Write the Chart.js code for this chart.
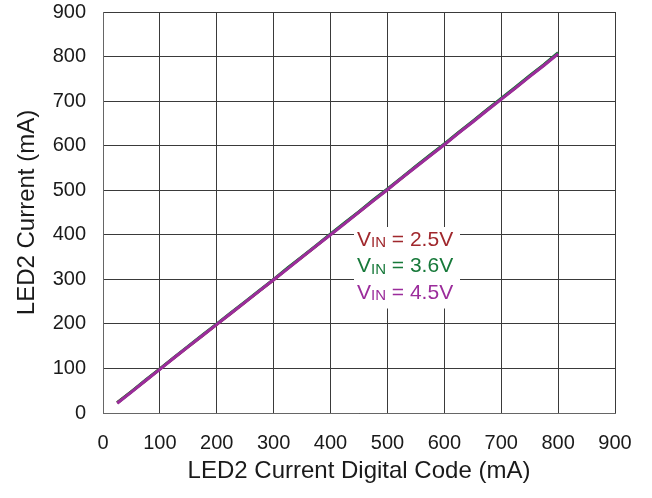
<!DOCTYPE html>
<html>
<head>
<meta charset="utf-8">
<script src="https://cdn.jsdelivr.net/npm/chart.js@4/dist/chart.umd.min.js"></script>
<style>
  html, body { margin: 0; padding: 0; background: #fff; }
  #wrap { width: 652px; height: 498px; }
</style>
</head>
<body>
<div id="wrap"><canvas id="c"></canvas></div>
<script>
// LED2 digital code setting (mA)
const codes = [25, 50, 75, 100, 125, 150, 175, 200, 225, 250, 275, 300, 325, 350, 375, 400,
               425, 450, 475, 500, 525, 550, 575, 600, 625, 650, 675, 700, 725, 750, 775, 800];
// Measured LED2 current (mA) at each supply voltage
const vin25 = [23, 48, 73, 99, 124, 149, 174, 199, 224, 249, 274, 299, 325, 350, 375, 401,
               426, 451, 477, 502, 527, 553, 578, 603, 629, 654, 680, 705, 730, 756, 781, 807];
const vin36 = [23, 48, 74, 99, 125, 150, 175, 200, 225, 250, 275, 300, 326, 351, 376, 402,
               427, 452, 478, 503, 528, 554, 579, 604, 630, 655, 681, 706, 731, 757, 782, 809];
const vin45 = [22, 47, 73, 98, 124, 149, 174, 199, 224, 249, 274, 299, 324, 350, 375, 400,
               425, 451, 476, 501, 527, 552, 577, 602, 628, 653, 679, 704, 729, 755, 780, 806];
const xTicks = [0, 100, 200, 300, 400, 500, 600, 700, 800, 900];
const yTicks = [0, 100, 200, 300, 400, 500, 600, 700, 800, 900];

const seriesNames = ['2.5V', '3.6V', '4.5V'];
const seriesColors = ['#a0282d', '#17793a', '#9b2c9b'];

const FONT = '"Liberation Sans", Arial, sans-serif';
const pts = ys => codes.map((x, i) => ({ x: x, y: ys[i] }));

// Inline voltage labels with subscript, on a white box
const vinLabels = {
  id: 'vinLabels',
  afterDatasetsDraw(chart) {
    const ctx = chart.ctx;
    const x0 = chart.chartArea.left + 254;
    const y0 = chart.chartArea.top + 228;
    const gap = 26.5;
    ctx.save();
    ctx.fillStyle = '#fff';
    ctx.fillRect(x0 - 3, y0 - 13, 106, 3 * gap + 2);
    seriesNames.forEach((name, i) => {
      const y = y0 + i * gap;
      ctx.fillStyle = seriesColors[i];
      ctx.textBaseline = 'middle';
      ctx.textAlign = 'left';
      let x = x0;
      ctx.font = '21px ' + FONT;
      ctx.fillText('V', x, y);
      x += ctx.measureText('V').width;
      ctx.font = '15px ' + FONT;
      ctx.fillText('IN', x, y + 3);
      x += ctx.measureText('IN').width;
      ctx.font = '21px ' + FONT;
      ctx.fillText(' = ' + name, x, y);
    });
    ctx.restore();
  }
};

new Chart(document.getElementById('c'), {
  type: 'line',
  data: {
    datasets: [
      { label: 'VIN = 2.5V', data: pts(vin25), borderColor: seriesColors[0], order: 3 },
      { label: 'VIN = 3.6V', data: pts(vin36), borderColor: seriesColors[1], order: 2 },
      { label: 'VIN = 4.5V', data: pts(vin45), borderColor: seriesColors[2], order: 1 }
    ].map(d => Object.assign(d, { borderWidth: 3, pointRadius: 0, fill: false, tension: 0 }))
  },
  options: {
    responsive: true,
    maintainAspectRatio: false,
    animation: false,
    layout: { padding: { top: 12, right: 37, left: 0, bottom: 0 } },
    plugins: { legend: { display: false }, tooltip: { enabled: false } },
    scales: {
      x: {
        type: 'linear', min: 0, max: 900,
        afterBuildTicks: s => { s.ticks = xTicks.map(v => ({ value: v })); },
        afterFit: s => { s.height = 85; s.paddingLeft = 0; s.paddingRight = 0; },
        grid: { color: '#3a3a3a', lineWidth: 1, drawTicks: false },
        border: { color: '#666', width: 1 },
        ticks: { color: '#1a1a1a', padding: 18, font: { size: 20, family: FONT } },
        title: { display: true, text: 'LED2 Current Digital Code (mA)', color: '#1a1a1a',
                 padding: { top: 12, bottom: 12 }, font: { size: 24, family: FONT } }
      },
      y: {
        type: 'linear', min: 0, max: 900,
        afterBuildTicks: s => { s.ticks = yTicks.map(v => ({ value: v })); },
        afterFit: s => { s.width = 103; s.paddingTop = 0; s.paddingBottom = 0; },
        grid: { color: '#3a3a3a', lineWidth: 1, drawTicks: false },
        border: { color: '#666', width: 1 },
        ticks: { color: '#1a1a1a', padding: 17, font: { size: 20, family: FONT } },
        title: { display: true, text: 'LED2 Current (mA)', color: '#1a1a1a',
                 padding: { top: 13, bottom: 13 }, font: { size: 24, family: FONT } }
      }
    }
  },
  plugins: [vinLabels]
});
</script>
</body>
</html>
